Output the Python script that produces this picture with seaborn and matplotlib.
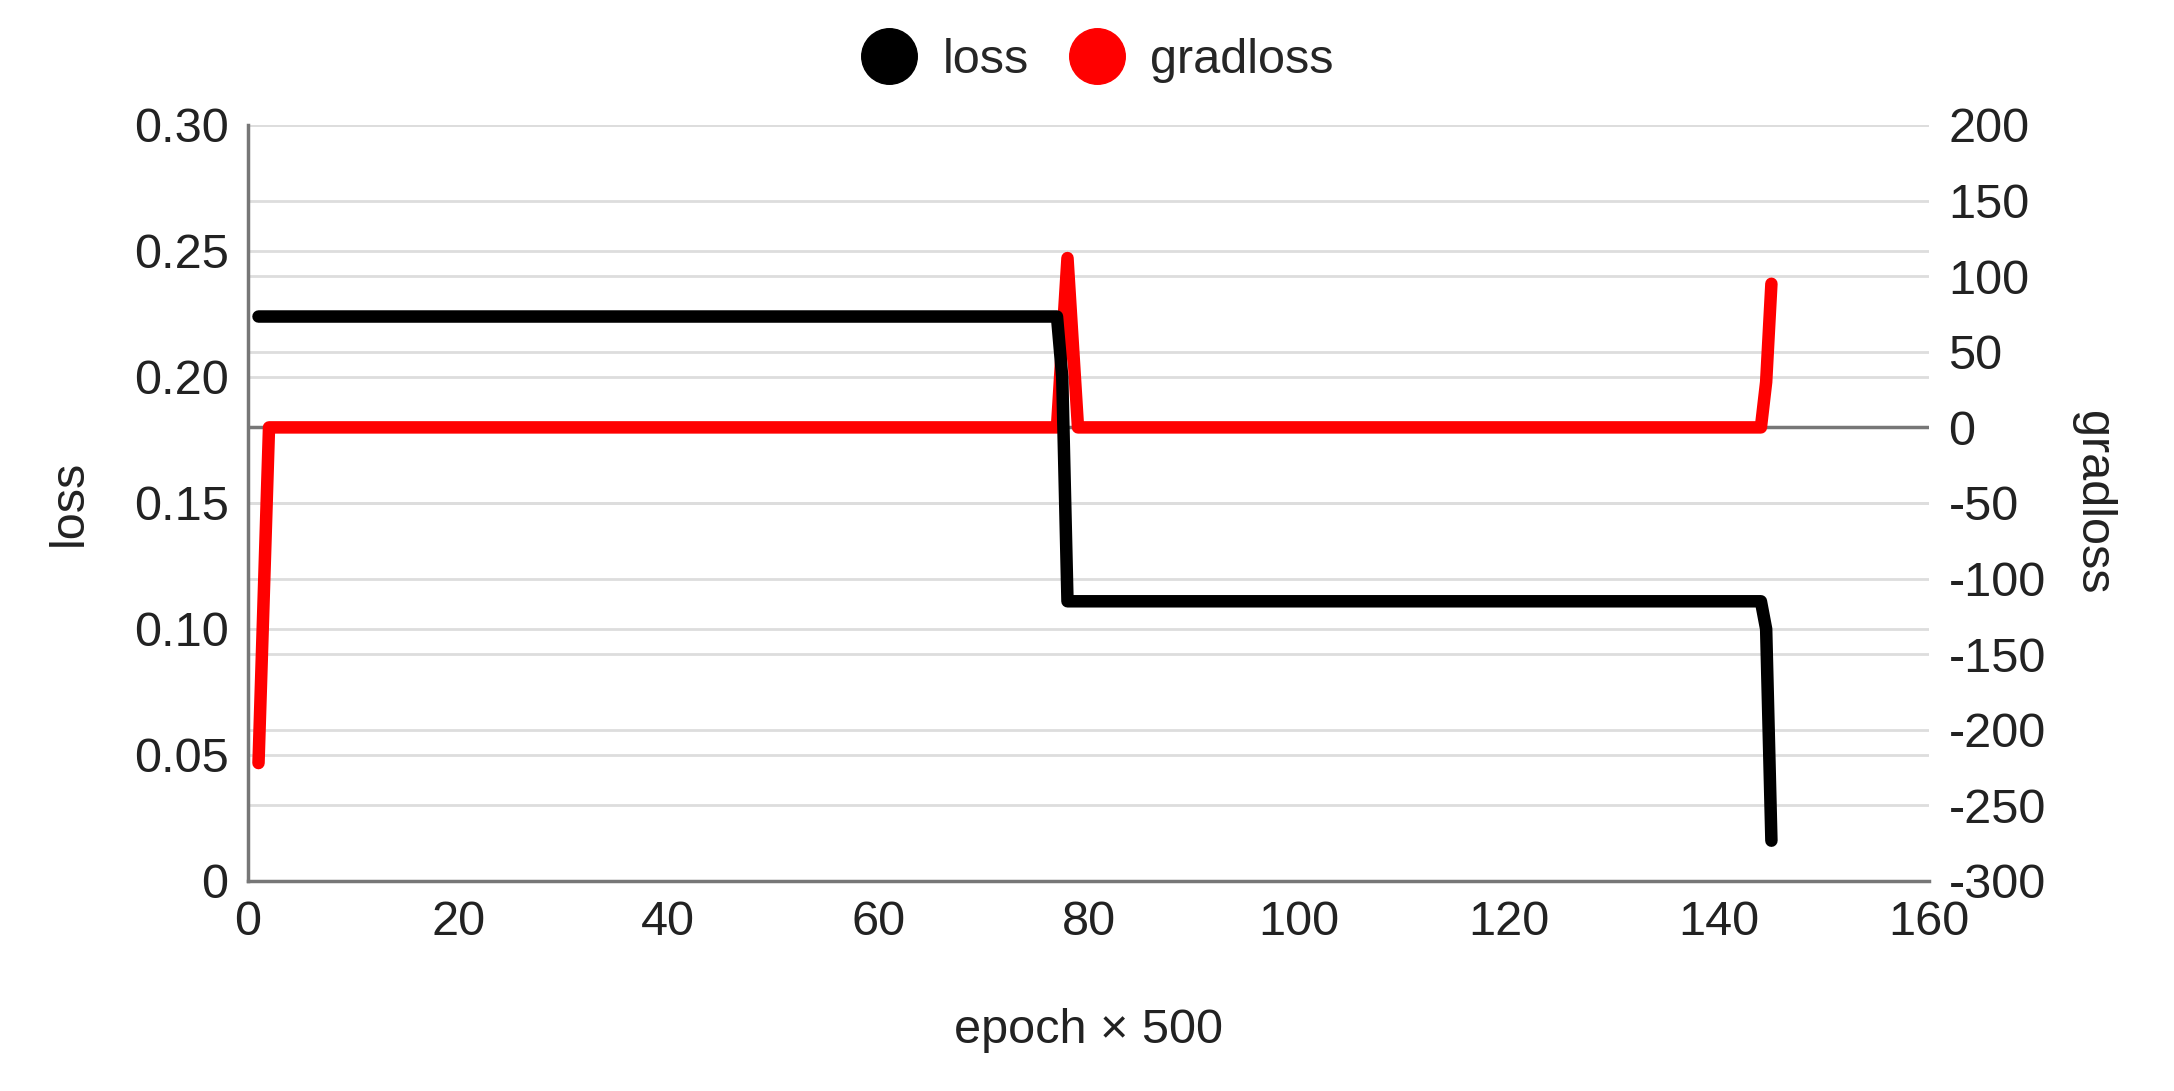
import matplotlib
matplotlib.use("Agg")
import matplotlib.pyplot as plt
import seaborn as sns
import pandas as pd
from matplotlib.lines import Line2D

loss_epoch = [1, 77, 77.5, 78, 144, 144.5, 145]
loss_vals = [0.224, 0.224, 0.2, 0.111, 0.111, 0.1, 0.016]
grad_epoch = [1, 2, 77, 78, 79, 144, 144.5, 145]
grad_vals = [-222, 0, 0, 112, 0, 0, 30, 95]
loss_ticks = [0, 0.05, 0.10, 0.15, 0.20, 0.25, 0.30]
loss_tick_labels = ['0', '0.05', '0.10', '0.15', '0.20', '0.25', '0.30']

sns.set_theme(style="white")
plt.rcParams['font.family'] = ['Liberation Sans', 'DejaVu Sans']
plt.rcParams['axes.unicode_minus'] = False

fig = plt.figure(figsize=(21.74, 10.91), dpi=100)
ax = fig.add_axes([248/2174, 1-881/1091, (1929-248)/2174, (881-125)/1091])
ax2 = ax.twinx()

gc = '#dddddd'
ax.set_xlim(0, 160)
ax.set_ylim(0, 0.30)
ax2.set_ylim(-300, 200)
ax.set_xticks(range(0, 161, 20))
ax.set_yticks(loss_ticks)
ax.set_yticklabels(loss_tick_labels)
ax2.set_yticks(range(-300, 201, 50))
ax2.grid(True, color=gc, linewidth=2)
ax2.set_xticks(range(0, 161, 20))
for v in loss_ticks:
    ax2.plot([0, 1], [v, v], transform=ax.get_yaxis_transform(), color=gc, linewidth=2, zorder=0.5)
ax2.axhline(0, color='#777777', linewidth=2.5, zorder=1)

df1 = pd.DataFrame({'epoch': loss_epoch, 'loss': loss_vals})
df2 = pd.DataFrame({'epoch': grad_epoch, 'gradloss': grad_vals})
sns.lineplot(data=df1, x='epoch', y='loss', ax=ax, color='black', linewidth=9, zorder=3)
sns.lineplot(data=df2, x='epoch', y='gradloss', ax=ax2, color='red', linewidth=9, zorder=3)
ax.set_zorder(ax2.get_zorder() + 1)
ax.patch.set_visible(False)

for a in (ax, ax2):
    for s in a.spines.values():
        s.set_visible(False)
    a.tick_params(labelsize=35, colors='#222222', length=0, pad=14)
for side in ('left', 'bottom'):
    ax.spines[side].set_visible(True)
    ax.spines[side].set_color('#777777')
    ax.spines[side].set_linewidth(2.5)

ax.set_xlabel('epoch × 500', fontsize=35, color='#222222', labelpad=45)
ax.set_ylabel('loss', fontsize=35, color='#222222', labelpad=30)
ax2.set_ylabel('gradloss', fontsize=35, color='#222222', rotation=270, labelpad=50)

handles = [Line2D([], [], marker='o', color='black', markersize=40, linestyle='none'),
           Line2D([], [], marker='o', color='red', markersize=40, linestyle='none')]
fig.legend(handles, ['loss', 'gradloss'], loc='upper center', bbox_to_anchor=(0.5, 1.005),
           ncol=2, frameon=False, fontsize=35, handletextpad=0.1, columnspacing=0.4)

fig.savefig('out.png', dpi=100)
